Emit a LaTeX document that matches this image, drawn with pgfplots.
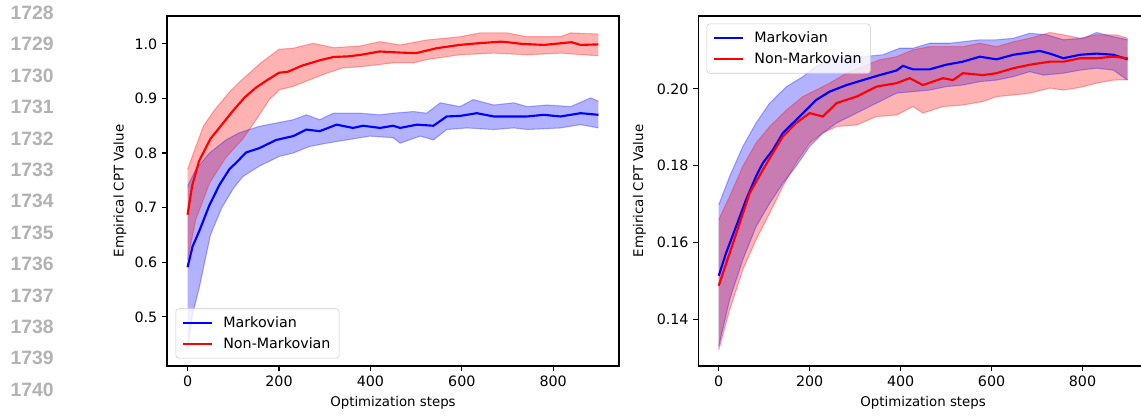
\documentclass[border=0pt]{standalone}
\usepackage{fontspec}
\setmainfont{DejaVu Sans}
\newfontfamily\lnfont{Liberation Sans}
\usepackage{pgfplots}
\pgfplotsset{compat=1.18}
\usepgfplotslibrary{fillbetween}

\newcommand{\mplfont}{\fontsize{10.7}{12.8}\selectfont}

\pgfplotsset{
  mplstyle/.style={
    scale only axis,
    height=262.5pt,
    xmin=-45, xmax=944,
    axis line style={black, line width=0.86pt},
    tick align=outside, tick pos=left,
    major tick length=3.75pt,
    tick style={black, line width=0.86pt},
    xtick={0,200,400,600,800},
    tick label style={font=\mplfont},
    label style={font=\mplfont},
    /pgf/number format/assume math mode=true,
    xlabel={Optimization steps},
    ylabel={Empirical CPT Value},
    every axis x label/.style={at={(axis description cs:0.5,-0.106)}, anchor=center},
    legend cell align=left,
    legend image code/.code={\draw[#1] (0pt,0pt) -- (22pt,0pt);},
    legend style={draw=black!20, rounded corners=2pt, fill=white, fill opacity=0.8,
      text opacity=1, font=\mplfont, inner xsep=4.5pt, inner ysep=3.6pt, row sep=2.5pt,
      /tikz/every odd column/.append style={column sep=5.5pt}},
  },
  band/.style={draw=#1, draw opacity=0.3, line width=0.8pt, forget plot},
  mean/.style={draw=#1, line width=1.6pt},
}

\begin{document}
\begin{tikzpicture}
% line numbers of the page margin
\foreach \k in {0,...,12}{
  \node[anchor=east, text=black!30, inner sep=0pt]
    at (40.5pt,{(312-0.75*(12.8+31.4*\k))*1pt})
    {\lnfont\bfseries\fontsize{14.5}{16}\selectfont\the\numexpr1728+\k\relax};
}

% ---------- left panel ----------
\begin{axis}[mplstyle,
  at={(125.25pt,37.5pt)}, anchor=south west,
  width=339pt,
  ymin=0.41, ymax=1.051,
  ytick={0.5,0.6,0.7,0.8,0.9,1.0},
  yticklabel style={/pgf/number format/.cd, fixed, fixed zerofill, precision=1},
  every axis y label/.style={at={(axis description cs:-0.104,0.5)}, rotate=90, anchor=center},
  legend style={at={(axis description cs:0.019,0.022)}, anchor=south west},
]
\addplot[band=blue, name path=lbu] coordinates {
(0,0.739)(18,0.770)(48,0.800)(84,0.824)(113,0.837)(157,0.849)(194,0.855)(231,0.861)
(260,0.870)(289,0.861)(319,0.873)(377,0.873)(421,0.870)(450,0.873)(494,0.876)(523,0.873)
(553,0.892)(596,0.885)(625,0.898)(670,0.888)(714,0.892)(743,0.885)(787,0.888)(838,0.885)
(882,0.901)(899,0.895)};
\addplot[band=blue, name path=lbl] coordinates {
(0,0.441)(11,0.505)(26,0.555)(50,0.650)(75,0.700)(100,0.735)(121,0.757)(157,0.776)
(201,0.794)(231,0.800)(267,0.812)(304,0.818)(348,0.824)(399,0.831)(450,0.828)(465,0.818)
(509,0.831)(538,0.824)(567,0.843)(611,0.846)(670,0.843)(714,0.846)(743,0.843)(816,0.846)
(860,0.852)(899,0.846)};
\addplot[blue, fill opacity=0.3, draw=none, forget plot] fill between[of=lbu and lbl];

\addplot[band=red, name path=lru] coordinates {
(0,0.770)(15,0.805)(35,0.850)(60,0.880)(90,0.910)(120,0.935)(160,0.965)(200,0.990)
(231,0.992)(275,1.001)(319,0.993)(377,0.996)(421,1.004)(465,0.998)(523,1.007)(596,1.013)
(640,1.020)(699,1.020)(743,1.013)(816,1.013)(838,1.020)(899,1.018)};
\addplot[band=red, name path=lrl] coordinates {
(0,0.605)(18,0.678)(48,0.745)(84,0.792)(121,0.826)(150,0.861)(179,0.898)(201,0.916)
(231,0.922)(267,0.934)(304,0.946)(340,0.956)(377,0.958)(450,0.965)(494,0.965)(523,0.971)
(596,0.980)(670,0.983)(743,0.980)(816,0.983)(899,0.978)};
\addplot[red, fill opacity=0.3, draw=none, forget plot] fill between[of=lru and lrl];

\addplot[mean=blue] coordinates {
(0,0.591)(11,0.629)(26,0.658)(48,0.705)(70,0.742)(92,0.771)(106,0.782)(128,0.801)
(157,0.809)(194,0.824)(231,0.831)(260,0.843)(289,0.840)(326,0.852)(362,0.846)(384,0.850)
(421,0.846)(450,0.850)(465,0.846)(502,0.852)(538,0.850)(567,0.867)(596,0.868)(633,0.873)
(670,0.867)(714,0.867)(743,0.867)(779,0.870)(816,0.867)(860,0.873)(899,0.870)};
\addplot[mean=red] coordinates {
(0,0.687)(10,0.740)(25,0.785)(50,0.826)(75,0.852)(100,0.878)(125,0.902)(150,0.920)
(175,0.934)(200,0.947)(220,0.949)(250,0.960)(290,0.970)(320,0.976)(350,0.977)(380,0.980)
(420,0.986)(465,0.984)(500,0.983)(545,0.992)(595,0.998)(635,1.001)(685,1.004)(700,1.003)
(730,1.000)(780,0.998)(840,1.003)(860,0.998)(899,0.999)};
\legend{Markovian, Non-Markovian}
\end{axis}

% ---------- right panel ----------
\begin{axis}[mplstyle,
  at={(523.7pt,37.5pt)}, anchor=south west,
  width=337.3pt,
  ymin=0.1278, ymax=0.219,
  ytick={0.14,0.16,0.18,0.20},
  yticklabel style={/pgf/number format/.cd, fixed, fixed zerofill, precision=2},
  every axis y label/.style={at={(axis description cs:-0.131,0.5)}, rotate=90, anchor=center},
  legend style={at={(axis description cs:0.0187,0.978)}, anchor=north west},
]
\addplot[band=blue, name path=rbu] coordinates {
(0,0.1698)(24,0.1772)(53,0.1850)(82,0.1911)(112,0.1963)(149,0.2006)(185,0.2032)(214,0.2058)
(244,0.2076)(281,0.2084)(317,0.2084)(361,0.2089)(398,0.2106)(427,0.2106)(464,0.2119)
(508,0.2119)(537,0.2123)(574,0.2128)(611,0.2128)(648,0.2132)(684,0.2145)(721,0.2141)
(758,0.2128)(802,0.2132)(831,0.2147)(868,0.2136)(899,0.2128)};
\addplot[band=blue, name path=rbl] coordinates {
(0,0.1329)(24,0.1451)(53,0.1555)(82,0.1641)(112,0.1702)(141,0.1754)(170,0.1798)(200,0.1850)
(229,0.1885)(259,0.1911)(303,0.1937)(347,0.1963)(391,0.1989)(427,0.1993)(464,0.1997)
(500,0.2006)(537,0.2010)(574,0.2019)(611,0.2023)(648,0.2032)(684,0.2045)(714,0.2036)
(758,0.2041)(795,0.2049)(831,0.2054)(868,0.2049)(899,0.2023)};
\addplot[blue, fill opacity=0.3, draw=none, forget plot] fill between[of=rbu and rbl];

\addplot[band=red, name path=rru] coordinates {
(0,0.1659)(24,0.1720)(53,0.1798)(82,0.1859)(112,0.1902)(149,0.1945)(185,0.1980)(214,0.1997)
(244,0.2015)(281,0.2041)(317,0.2058)(354,0.2076)(391,0.2084)(427,0.2102)(464,0.2110)
(537,0.2110)(574,0.2119)(611,0.2110)(648,0.2123)(684,0.2132)(728,0.2147)(758,0.2141)
(795,0.2132)(831,0.2141)(875,0.2141)(899,0.2132)};
\addplot[band=red, name path=rrl] coordinates {
(0,0.1320)(24,0.1424)(53,0.1529)(82,0.1607)(112,0.1676)(141,0.1746)(170,0.1807)(200,0.1859)
(229,0.1885)(259,0.1902)(303,0.1906)(347,0.1928)(391,0.1932)(427,0.1954)(449,0.1937)
(493,0.1954)(537,0.1958)(581,0.1967)(611,0.1980)(648,0.1984)(684,0.1989)(728,0.2002)
(758,0.1997)(795,0.2004)(831,0.2015)(868,0.2023)(899,0.2024)};
\addplot[red, fill opacity=0.3, draw=none, forget plot] fill between[of=rru and rrl];

\addplot[mean=blue] coordinates {
(0,0.1513)(16,0.1572)(38,0.1641)(60,0.1711)(82,0.1772)(97,0.1807)(119,0.1841)(141,0.1885)
(170,0.1919)(200,0.1954)(214,0.1971)(244,0.1993)(281,0.2010)(317,0.2023)(354,0.2036)
(391,0.2048)(405,0.2060)(427,0.2051)(464,0.2051)(500,0.2063)(537,0.2071)(574,0.2084)
(611,0.2077)(648,0.2089)(684,0.2095)(706,0.2099)(728,0.2092)(758,0.2080)(795,0.2089)
(831,0.2092)(868,0.2089)(899,0.2077)};
\addplot[mean=red] coordinates {
(0,0.1487)(24,0.1572)(46,0.1650)(68,0.1728)(97,0.1789)(119,0.1833)(141,0.1876)(170,0.1911)
(200,0.1937)(229,0.1928)(259,0.1963)(303,0.1980)(347,0.2006)(391,0.2015)(420,0.2028)
(449,0.2010)(493,0.2028)(515,0.2023)(537,0.2041)(581,0.2036)(611,0.2041)(648,0.2054)
(684,0.2063)(728,0.2071)(758,0.2071)(795,0.2080)(831,0.2080)(868,0.2084)(899,0.2080)};
\legend{Markovian, Non-Markovian}
\end{axis}

\pgfresetboundingbox
\useasboundingbox (0,0) rectangle (855.75pt,312pt);
\end{tikzpicture}
\end{document}
